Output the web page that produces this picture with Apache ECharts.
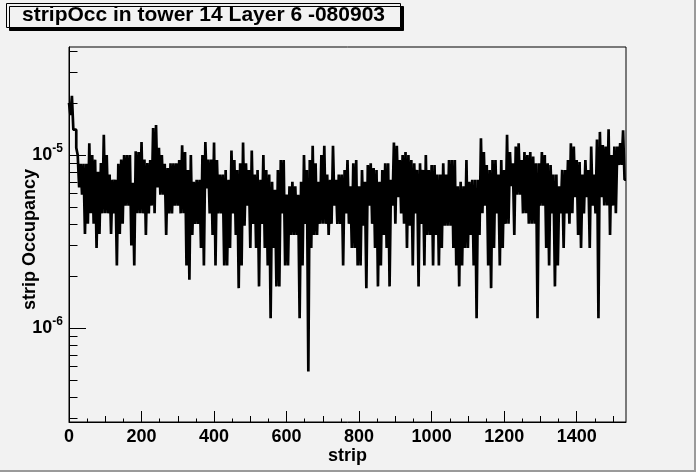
<!DOCTYPE html>
<html>
<head>
<meta charset="utf-8">
<script src="https://cdn.jsdelivr.net/npm/echarts@6/dist/echarts.min.js"></script>
<style>
html,body{margin:0;padding:0;background:#f2f2f2;}
#main{width:696px;height:472px;box-sizing:border-box;border-right:2px solid #9a9a9a;border-bottom:2px solid #9a9a9a;}
</style>
</head>
<body>
<div id="main"></div>
<script>
// ---- data (occupancy per group of 4 strips) ----
const chartTitle = 'stripOcc in tower 14 Layer 6 -080903';
const stripsPerPoint = 4;
const nStrips = 1536;

const occStrips0000 = [
 2.0e-5,1.7e-5, 2.2e-5,1.4e-5, 1.4e-5,1.1e-5, 1.0e-5,6.5e-6, 8.9e-6,5.9e-6, 8.9e-6,3.5e-6, 8.9e-6,4.0e-6, 1.17e-5,4.6e-6,
 1.0e-5,4.0e-6, 9.4e-6,2.9e-6, 8.0e-6,3.5e-6, 9.0e-6,4.6e-6, 1.31e-5,4.6e-6, 1.0e-5,4.6e-6, 7.7e-6,3.5e-6, 7.2e-6,4.6e-6,
 7.2e-6,2.3e-6, 8.9e-6,3.5e-6, 9.4e-6,4.0e-6, 1.0e-5,5.1e-6, 1.0e-5,5.1e-6, 1.0e-5,3.0e-6, 6.9e-6,2.3e-6, 1.05e-5,4.6e-6,
 1.04e-5,4.6e-6, 1.19e-5,4.6e-6, 9.4e-6,3.45e-6, 9.0e-6,4.6e-6, 9.35e-6,5.1e-6, 1.43e-5,4.6e-6, 1.49e-5,6.5e-6, 1.1e-5,5.9e-6
];
const occStrips0256 = [
 1.0e-5,5.9e-6, 8.9e-6,3.45e-6, 8.4e-6,4.6e-6, 8.95e-6,4.6e-6, 8.95e-6,5.1e-6, 8.95e-6,5.1e-6, 9.35e-6,4.6e-6, 1.14e-5,4.6e-6,
 1.04e-5,2.3e-6, 8.2e-6,1.9e-6, 1.0e-5,3.45e-6, 7.0e-6,4.0e-6, 7.2e-6,4.0e-6, 7.2e-6,2.9e-6, 1.0e-5,2.3e-6, 1.19e-5,6.4e-6,
 9.4e-6,4.6e-6, 9.4e-6,3.45e-6, 1.18e-5,2.3e-6, 9.35e-6,4.6e-6, 7.7e-6,4.6e-6, 7.7e-6,2.3e-6, 8.2e-6,2.3e-6, 7.2e-6,2.9e-6,
 1.06e-5,4.6e-6, 9.35e-6,3.45e-6, 8.2e-6,1.7e-6, 8.95e-6,2.3e-6, 1.18e-5,3.9e-6, 8.95e-6,5.1e-6, 8.2e-6,2.9e-6, 1.06e-5,4.0e-6
];
const occStrips0512 = [
 7.7e-6,2.9e-6, 8.2e-6,1.74e-6, 7.2e-6,4.0e-6, 1.0e-5,2.9e-6, 8.2e-6,2.3e-6, 7.7e-6,1.14e-6, 7.0e-6,2.9e-6, 6.3e-6,1.74e-6,
 8.2e-6,1.74e-6, 9.35e-6,4.6e-6, 9.35e-6,2.3e-6, 5.9e-6,2.3e-6, 6.6e-6,3.45e-6, 7.0e-6,3.45e-6, 6.6e-6,3.45e-6, 5.9e-6,1.14e-6,
 7.0e-6,2.3e-6, 1.0e-5,4.0e-6, 8.2e-6,5.6e-7, 9.35e-6,2.9e-6, 1.13e-5,3.45e-6, 8.95e-6,3.45e-6, 7.0e-6,4.0e-6, 1.0e-5,4.0e-6,
 1.13e-5,4.0e-6, 7.7e-6,3.45e-6, 7.2e-6,4.0e-6, 1.13e-5,5.1e-6, 7.2e-6,4.0e-6, 7.7e-6,4.0e-6, 7.7e-6,2.3e-6, 8.2e-6,4.6e-6
];
const occStrips0768 = [
 9.35e-6,4.0e-6, 6.6e-6,2.9e-6, 8.95e-6,2.9e-6, 9.35e-6,2.3e-6, 6.6e-6,2.3e-6, 8.2e-6,3.9e-6, 7.0e-6,1.7e-6, 8.75e-6,5.1e-6,
 8.95e-6,4.0e-6, 8.4e-6,2.9e-6, 8.2e-6,1.74e-6, 7.0e-6,2.3e-6, 8.2e-6,3.45e-6, 8.95e-6,2.9e-6, 8.95e-6,1.74e-6, 7.2e-6,5.1e-6,
 1.18e-5,4.0e-6, 1.13e-5,5.7e-6, 9.35e-6,4.6e-6, 1.0e-5,4.0e-6, 1.04e-5,2.9e-6, 1.0e-5,3.9e-6, 9.35e-6,2.3e-6, 8.95e-6,4.6e-6,
 8.2e-6,1.74e-6, 8.95e-6,4.0e-6, 8.2e-6,2.3e-6, 1.0e-5,3.45e-6, 8.2e-6,3.45e-6, 8.75e-6,2.3e-6, 8.75e-6,3.45e-6, 7.7e-6,2.3e-6
];
const occStrips1024 = [
 7.7e-6,2.9e-6, 8.95e-6,3.9e-6, 7.7e-6,3.9e-6, 9.35e-6,3.9e-6, 9.35e-6,2.9e-6, 9.35e-6,2.3e-6, 6.6e-6,1.74e-6, 7.0e-6,2.3e-6,
 6.6e-6,2.9e-6, 9.35e-6,2.9e-6, 7.0e-6,3.45e-6, 7.2e-6,2.3e-6, 7.2e-6,1.14e-6, 7.2e-6,3.45e-6, 1.25e-5,4.6e-6, 1.04e-5,5.1e-6,
 8.75e-6,2.3e-6, 8.2e-6,1.7e-6, 9.35e-6,2.9e-6, 9.35e-6,4.6e-6, 7.7e-6,2.3e-6, 9.35e-6,2.9e-6, 8.2e-6,4.0e-6, 1.31e-5,4.0e-6,
 1.04e-5,6.6e-6, 8.95e-6,3.45e-6, 1.12e-5,5.9e-6, 1.17e-5,5.9e-6, 9.35e-6,4.6e-6, 1.04e-5,4.6e-6, 1.0e-5,4.0e-6, 1.04e-5,4.0e-6
];
const occStrips1280 = [
 9.8e-6,4.0e-6, 8.95e-6,1.14e-6, 8.95e-6,5.1e-6, 1.04e-5,5.1e-6, 1.0e-5,2.9e-6, 8.95e-6,2.3e-6, 8.75e-6,4.6e-6, 7.7e-6,1.74e-6,
 7.7e-6,2.3e-6, 6.6e-6,4.6e-6, 8.2e-6,2.9e-6, 8.2e-6,4.6e-6, 9.35e-6,4.0e-6, 1.17e-5,4.6e-6, 1.12e-5,5.7e-6, 9.35e-6,3.45e-6,
 9.1e-6,2.9e-6, 7.7e-6,4.6e-6, 9.35e-6,5.7e-6, 8.2e-6,2.9e-6, 1.12e-5,5.1e-6, 7.7e-6,4.6e-6, 1.23e-5,1.14e-6, 1.36e-5,5.7e-6,
 1.14e-5,5.1e-6, 1.12e-5,5.1e-6, 1.41e-5,3.45e-6, 1.0e-5,5.1e-6, 1.12e-5,4.6e-6, 1.12e-5,8.75e-6, 1.17e-5,8.75e-6, 1.39e-5,7.2e-6
];

// ---- axis ticks / labels ----
const xLabelTicks = [0, 200, 400, 600, 800, 1000, 1200, 1400];
const xMidTicks = [100, 300, 500, 700, 900, 1100, 1300, 1500];
const xSmallTicks = [50, 150, 250, 350, 450, 550, 650, 750, 850, 950, 1050, 1150, 1250, 1350, 1450];
const yMinExp = -6.5434, yMaxExp = -4.3757;
const yDecadeTicks = [1e-6, 1e-5];
const yMinorTicks = [3e-7, 4e-7, 5e-7, 6e-7, 7e-7, 8e-7, 9e-7,
  2e-6, 3e-6, 4e-6, 5e-6, 6e-6, 7e-6, 8e-6, 9e-6, 2e-5, 3e-5, 4e-5];

// ---- build ----
const occupancy = [].concat(occStrips0000, occStrips0256, occStrips0512, occStrips0768, occStrips1024, occStrips1280);
const lineData = occupancy.map((v, i) => [i * stripsPerPoint, v]);
lineData.push([nStrips, occupancy[occupancy.length - 1]]);

const font = "'Liberation Sans', Arial, Helvetica, sans-serif";
const bold = { fontFamily: font, fontWeight: 'bold', color: '#000' };

const chart = echarts.init(document.getElementById('main'), null, { renderer: 'canvas' });
chart.setOption({
  animation: false,
  backgroundColor: '#f2f2f2',
  title: {
    text: chartTitle,
    left: 6, top: 3,
    padding: [2, 16, 2, 16],
    backgroundColor: '#f2f2f2',
    borderColor: '#000', borderWidth: 1,
    shadowColor: '#000', shadowOffsetX: 3, shadowOffsetY: 3, shadowBlur: 0,
    textStyle: Object.assign({ fontSize: 21, lineHeight: 21 }, bold)
  },
  grid: {
    left: 69, top: 47, width: 557, height: 375,
    show: true, backgroundColor: '#f2f2f2', borderColor: '#000', borderWidth: 1
  },
  xAxis: [
    {
      type: 'value', position: 'bottom', min: 0, max: nStrips,
      name: 'strip', nameLocation: 'middle', nameGap: 25, nameMoveOverlap: false,
      nameTextStyle: Object.assign({ fontSize: 18 }, bold),
      axisLine: { show: true, lineStyle: { color: '#000', width: 1 } },
      axisTick: { show: true, inside: true, length: 11, customValues: xLabelTicks, lineStyle: { color: '#000' } },
      axisLabel: Object.assign({ customValues: xLabelTicks, fontSize: 18, margin: 6, formatter: v => String(v) }, bold),
      splitLine: { show: false }
    },
    {
      type: 'value', position: 'bottom', min: 0, max: nStrips,
      axisLine: { show: false },
      axisTick: { show: true, inside: true, length: 6, customValues: xMidTicks, lineStyle: { color: '#000' } },
      axisLabel: { show: false }, splitLine: { show: false }
    },
    {
      type: 'value', position: 'bottom', min: 0, max: nStrips,
      axisLine: { show: false },
      axisTick: { show: true, inside: true, length: 3.5, customValues: xSmallTicks, lineStyle: { color: '#000' } },
      axisLabel: { show: false }, splitLine: { show: false }
    }
  ],
  yAxis: [
    {
      type: 'log', position: 'left', logBase: 10,
      min: Math.pow(10, yMinExp), max: Math.pow(10, yMaxExp),
      axisLine: { show: false }, axisTick: { show: false }, axisLabel: { show: false }, splitLine: { show: false }
    },
    {
      type: 'value', position: 'left', min: yMinExp, max: yMaxExp,
      name: 'strip Occupancy', nameLocation: 'middle', nameGap: 30, nameMoveOverlap: false,
      nameTextStyle: Object.assign({ fontSize: 18, padding: [0, 10, 0, 0] }, bold),
      axisLine: { show: true, lineStyle: { color: '#000', width: 1 } },
      axisTick: { show: true, inside: true, length: 17, customValues: yDecadeTicks.map(Math.log10), lineStyle: { color: '#000' } },
      axisLabel: Object.assign({
        customValues: yDecadeTicks.map(Math.log10), fontSize: 18, margin: 6,
        formatter: v => '{b|10}{sup|' + Math.round(v) + '}',
        rich: {
          b: { fontFamily: font, fontWeight: 'bold', fontSize: 18, color: '#000' },
          sup: { fontFamily: font, fontWeight: 'bold', fontSize: 12, color: '#000', padding: [0, 0, 12, 0] }
        }
      }, bold),
      splitLine: { show: false }
    },
    {
      type: 'value', position: 'left', min: yMinExp, max: yMaxExp,
      axisLine: { show: false },
      axisTick: { show: true, inside: true, length: 8.5, customValues: yMinorTicks.map(Math.log10), lineStyle: { color: '#000' } },
      axisLabel: { show: false }, splitLine: { show: false }
    }
  ],
  series: [{
    type: 'line', xAxisIndex: 0, yAxisIndex: 0,
    step: 'end', symbol: 'none', showSymbol: false,
    lineStyle: { color: '#000', width: 2.7 },
    data: lineData
  }]
});
</script>
</body>
</html>
